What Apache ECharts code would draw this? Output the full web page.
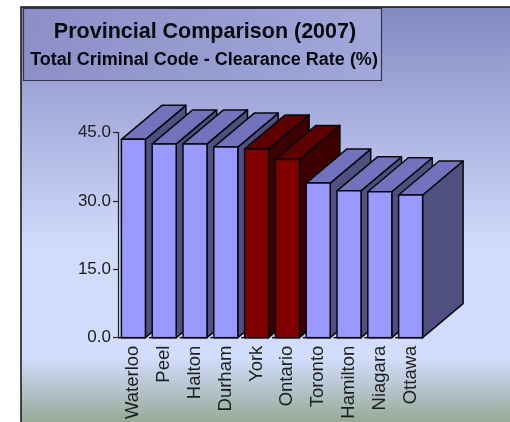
<!DOCTYPE html>
<html><head><meta charset="utf-8">
<style>html,body{margin:0;padding:0;background:#fff}#c{width:510px;height:422px}</style>
<script src="https://cdn.jsdelivr.net/npm/echarts@6/dist/echarts.min.js"></script>
</head><body><div id="c"></div>
<script>
const categories=['Waterloo','Peel','Halton','Durham','York','Ontario','Toronto','Hamilton','Niagara','Ottawa'];
const values=[43.5,42.5,42.5,41.8,41.4,39.1,33.9,32.2,32.0,31.3];
const highlighted=['York','Ontario'];
const tickInterval=15;
const titleText='Provincial Comparison (2007)';
const subtitleText='Total Criminal Code - Clearance Rate (%)';

const blue={front:'#9999ff',top:'#7373bd',side:'#4f4f80'};
const red={front:'#800000',top:'#5c0000',side:'#3d0000'};
const DX=40.5,DY=34,BW=24;
const chart=echarts.init(document.getElementById('c'),null,{renderer:'canvas'});
function renderItem(params,api){
  const p=api.coord([api.value(0),api.value(1)]);
  const b=api.coord([api.value(0),0]);
  const step=api.size([1,0])[0];
  const x0=p[0]-BW/2,x1=p[0]+BW/2,yt=p[1],yb=b[1];
  const c=highlighted.includes(categories[api.value(0)])?red:blue;
  const st={stroke:'#08080f',lineWidth:1.5,lineJoin:'round'};
  return {type:'group',children:[
    {type:'polygon',shape:{points:[[x1,yt],[x1+DX,yt-DY],[x1+DX,yb-DY],[x1,yb]]},style:{fill:c.side,...st}},
    {type:'polygon',shape:{points:[[x0,yt],[x0+DX,yt-DY],[x1+DX,yt-DY],[x1,yt]]},style:{fill:c.top,...st}},
    {type:'rect',shape:{x:x0,y:yt,width:BW,height:yb-yt},style:{fill:c.front,...st}},
    {type:'line',shape:{x1:p[0]-step/2,y1:yb,x2:x1,y2:yb},style:{stroke:'#08080f',lineWidth:1.5}}
  ]};
}
chart.setOption({
  animation:false,
  graphic:[
    {type:'rect',z:-10,silent:true,shape:{x:21,y:7,width:495,height:420},
     style:{stroke:'#111',lineWidth:1.5,fill:{type:'linear',x:0,y:0,x2:0,y2:1,colorStops:[
       {offset:0,color:'#8488c3'},{offset:0.56,color:'#d0dafb'},{offset:0.833,color:'#d2ddfd'},{offset:0.99,color:'#95a997'},{offset:1,color:'#95a997'}]}}},
    {type:'rect',z:-9,silent:true,shape:{x:23.5,y:8.5,width:358,height:72},
     style:{stroke:'#34344e',lineWidth:1.2,fill:{type:'linear',x:0,y:0,x2:1,y2:1,colorStops:[
       {offset:0,color:'#8b8fc6'},{offset:1,color:'#a2a8da'}]}}},
    {type:'text',z:50,silent:true,style:{x:205,y:32,text:titleText,align:'center',verticalAlign:'middle',fill:'#08080f',font:'bold 21.5px "Liberation Sans"'}},
    {type:'text',z:50,silent:true,style:{x:204,y:60,text:subtitleText,align:'center',verticalAlign:'middle',fill:'#08080f',font:'bold 18px "Liberation Sans"'}}
  ],
  grid:{left:118,top:132.5,width:308,height:205.5,containLabel:false},
  xAxis:{type:'category',data:categories,
    axisLine:{show:false},axisTick:{show:false},
    axisLabel:{rotate:90,interval:0,margin:8,padding:[4,0,0,0],color:'#1c1c1c',fontFamily:'Liberation Sans',fontSize:18.5}},
  yAxis:{type:'value',min:0,max:45,interval:tickInterval,
    splitLine:{show:false},
    axisLine:{show:true,lineStyle:{color:'#222',width:1.2}},
    axisTick:{show:true,length:5,lineStyle:{color:'#222',width:1.2}},
    axisLabel:{margin:7,color:'#1c1c1c',fontFamily:'Liberation Sans',fontSize:17,formatter:v=>v.toFixed(1)}},
  series:[{type:'custom',renderItem,clip:false,z:5,encode:{x:0,y:1},
    data:values.map((v,i)=>[i,v])}]
});
</script></body></html>
